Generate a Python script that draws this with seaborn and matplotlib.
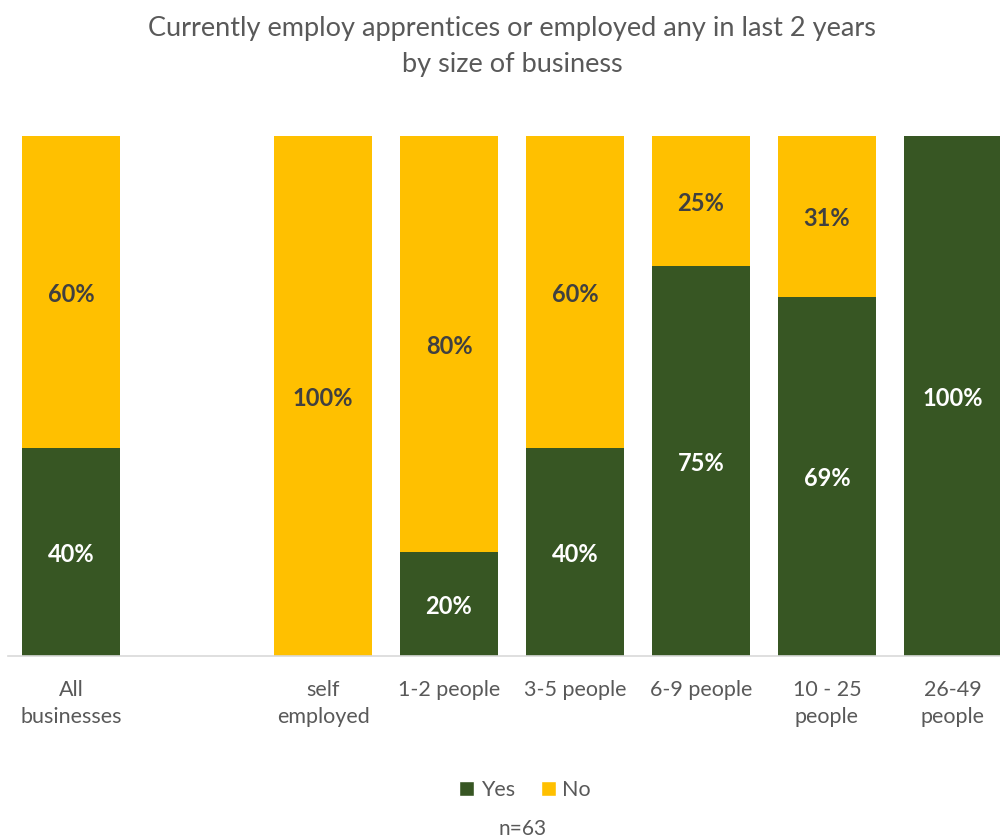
import matplotlib
matplotlib.use("Agg")
import matplotlib.pyplot as plt
import seaborn as sns
import pandas as pd
from matplotlib.patches import Patch

categories = ["All\nbusinesses", " ", "self\nemployed", "1-2 people", "3-5 people",
              "6-9 people", "10 - 25\npeople", "26-49\npeople"]
yes_vals = [40, 0, 0, 20, 40, 75, 69, 100]
no_vals = [60, 0, 100, 80, 60, 25, 31, 0]
title = "Currently employ apprentices or employed any in last 2 years\nby size of business"
note = "n=63"

GREEN = "#375623"
YELLOW = "#FFC000"
GRAY = "#595959"

sns.set_theme(style="white")
plt.rcParams["font.family"] = ["Lato", "DejaVu Sans"]

df = pd.DataFrame({"cat": categories, "Yes": yes_vals, "No": no_vals})
df["Total"] = df["Yes"] + df["No"]

fig = plt.figure(figsize=(10, 8.39), dpi=100)
ax = fig.add_axes([0.008, 0.2181, 1.008, 0.6198])

sns.barplot(data=df, x="cat", y="Total", order=categories, color=YELLOW,
            saturation=1, width=0.77, ax=ax, linewidth=0)
sns.barplot(data=df, x="cat", y="Yes", order=categories, color=GREEN,
            saturation=1, width=0.77, ax=ax, linewidth=0)

ax.set_xlim(-0.5, 7.5)
ax.set_ylim(0, 100)
ax.set_xlabel("")
ax.set_ylabel("")
ax.set_yticks([])
for s in ["top", "right", "left"]:
    ax.spines[s].set_visible(False)
ax.spines["bottom"].set_color("#D9D9D9")
ax.spines["bottom"].set_linewidth(1.2)
ax.tick_params(axis="x", length=0, pad=17, labelsize=15.5, labelcolor=GRAY)
for t in ax.get_xticklabels():
    t.set_verticalalignment("top")
    t.set_linespacing(1.45)

for i, (y, n) in enumerate(zip(yes_vals, no_vals)):
    if y > 0:
        ax.text(i, y / 2, f"{y}%", ha="center", va="center_baseline", color="white",
                fontsize=17, fontweight="bold")
    if n > 0:
        ax.text(i, y + n / 2, f"{n}%", ha="center", va="center_baseline", color="#404040",
                fontsize=17, fontweight="bold")

fig.text(0.512, 0.944, title, ha="center", va="center", fontsize=19.5,
         color=GRAY, linespacing=1.55)

handles = [Patch(facecolor=GREEN, label="Yes"), Patch(facecolor=YELLOW, label="No")]
fig.legend(handles=handles, loc="center", bbox_to_anchor=(0.525, 0.058), ncol=2,
           frameon=False, fontsize=15.5, labelcolor=GRAY, handlelength=0.7,
           handleheight=0.7, handletextpad=0.3, columnspacing=1.2)
fig.text(0.523, 0.012, note, ha="center", va="center", fontsize=15, color=GRAY)

fig.savefig("out.png", dpi=100)
